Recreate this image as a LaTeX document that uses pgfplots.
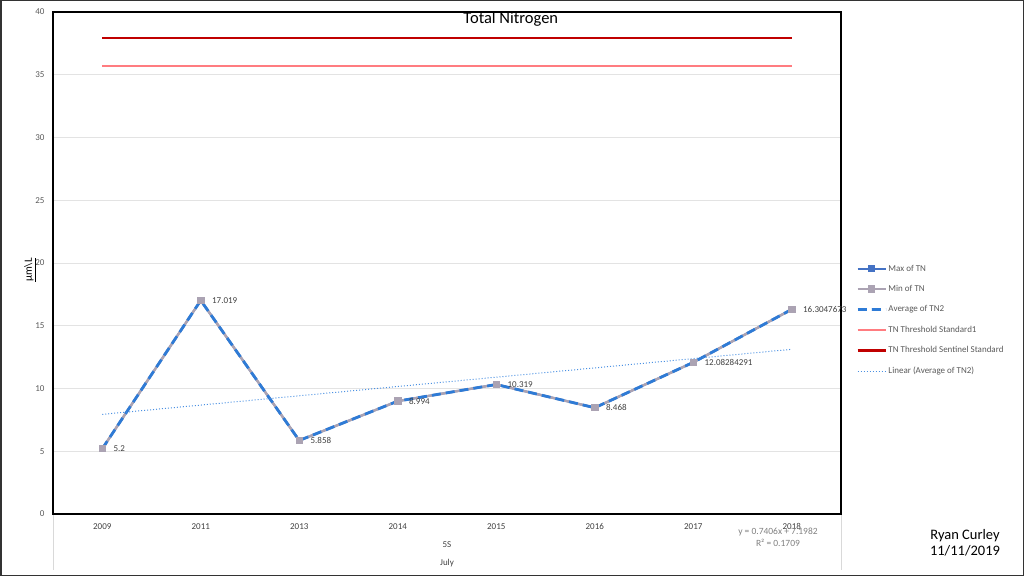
\documentclass[border=0pt]{standalone}
\usepackage{fontspec}
\setmainfont{Carlito}
\usepackage{pgfplots}
\pgfplotsset{compat=1.18}
\definecolor{maxc}{HTML}{4472C4}
\definecolor{minc}{HTML}{ABA3B3}
\definecolor{avgc}{HTML}{2E7BD6}
\definecolor{std1}{HTML}{FF7C80}
\definecolor{sent}{HTML}{C00000}
\definecolor{trend}{HTML}{4A90E2}
\definecolor{framec}{HTML}{333333}
\definecolor{sepc}{HTML}{D9D9D9}
\definecolor{gridc}{HTML}{E3E3E3}
\definecolor{ytc}{HTML}{595959}
\definecolor{xtc}{HTML}{404040}
\definecolor{lblc}{HTML}{404040}
\definecolor{eqc}{HTML}{808080}
\begin{document}
\begin{tikzpicture}[x=1pt,y=1pt]
\useasboundingbox (0,0) rectangle (1024,576);
\draw[color=framec, line width=1.5pt] (0.75,0.75) rectangle (1023.25,575.25);
\draw[sepc, line width=0.8pt] (53,62) -- (53,6);
\draw[sepc, line width=0.8pt] (841,62) -- (841,6);
\begin{axis}[
  at={(53pt,62pt)}, anchor=south west,
  scale only axis, width=788pt, height=502pt,
  xmin=-0.5, xmax=7.5, ymin=0, ymax=40,
  ytick={0,5,...,40},
  xtick={0,...,7},
  xticklabels={2009,2011,2013,2014,2015,2016,2017,2018},
  major tick length=0pt,
  ymajorgrids, grid style={gridc, line width=0.8pt},
  axis line style={black, line width=1.4pt},
  clip=false,
  /pgf/number format/assume math mode=true,
  yticklabel style={font=\fontsize{9}{10}\selectfont, text=ytc, xshift=-5pt},
  xticklabel style={font=\fontsize{9}{10}\selectfont, text=xtc, yshift=-6pt},
  ylabel={\underline{µm\textbackslash L}},
  ylabel style={at={(rel axis cs:-0.0292,0.486)}, anchor=center, font=\fontsize{11}{12}\selectfont},
  legend style={draw=none, fill=none, inner sep=0pt, at={(1.019,0.3864)}, anchor=west,
    font=\fontsize{9}{11}\selectfont, text=ytc, row sep=9.7pt, nodes={inner sep=1.5pt}},
  legend cell align=left,
  legend image code/.code={\draw[mark repeat=2,mark phase=2] plot coordinates {(0pt,0pt) (14pt,0pt) (28pt,0pt)};},
]
\addplot[maxc, line width=2pt, mark=square*, mark size=2.5pt, mark options={solid}] coordinates {
(0,5.2) (1,17.019) (2,5.858) (3,8.994) (4,10.319) (5,8.468) (6,12.08284291) (7,16.3047673)};
\addlegendentry{Max of TN}
\addplot[minc, line width=2.5pt, mark=square*, mark size=2.5pt, mark options={solid}] coordinates {
(0,5.2) (1,17.019) (2,5.858) (3,8.994) (4,10.319) (5,8.468) (6,12.08284291) (7,16.3047673)};
\addlegendentry{Min of TN}
\addplot[avgc, line width=2.8pt, dash pattern=on 9pt off 5pt,
  point meta=explicit symbolic,
  nodes near coords,
  nodes near coords style={anchor=west, inner sep=1pt, xshift=9pt, text=lblc, font=\fontsize{9}{10}\selectfont}]
  table[x=x, y=y, meta=lab, row sep=\\] {
x y lab \\
0 5.2 5.2 \\
1 17.019 17.019 \\
2 5.858 5.858 \\
3 8.994 8.994 \\
4 10.319 10.319 \\
5 8.468 8.468 \\
6 12.08284291 12.08284291 \\
7 16.3047673 16.3047673 \\
};
\addlegendentry{Average of TN2}
\addplot[std1, line width=2.2pt] coordinates {(0,35.7) (7,35.7)};
\addlegendentry{TN Threshold Standard1}
\addplot[sent, line width=2.2pt] coordinates {(0,37.9) (7,37.9)};
\addlegendentry{TN Threshold Sentinel Standard}
\addplot[trend, line width=1pt, dotted] coordinates {(0,7.9388) (7,13.1230)};
\addlegendentry{Linear (Average of TN2)}
\node[font=\fontsize{16.5}{18}\selectfont, anchor=center] at (rel axis cs:0.581,0.986) {Total Nitrogen};
\node[font=\fontsize{9}{10}\selectfont, text=xtc] at (rel axis cs:0.5,-0.0618) {5S};
\node[font=\fontsize{9}{10}\selectfont, text=xtc] at (rel axis cs:0.5,-0.0976) {July};
\node[font=\fontsize{9.5}{10}\selectfont, text=eqc] at (rel axis cs:0.920,-0.0359) {y = 0.7406x + 7.1982};
\node[font=\fontsize{9.5}{10}\selectfont, text=eqc] at (rel axis cs:0.920,-0.0578) {R² = 0.1709};
\end{axis}
\node[font=\fontsize{14.5}{16}\selectfont, align=center] at (965,33) {Ryan Curley\\11/11/2019};
\end{tikzpicture}
\end{document}
